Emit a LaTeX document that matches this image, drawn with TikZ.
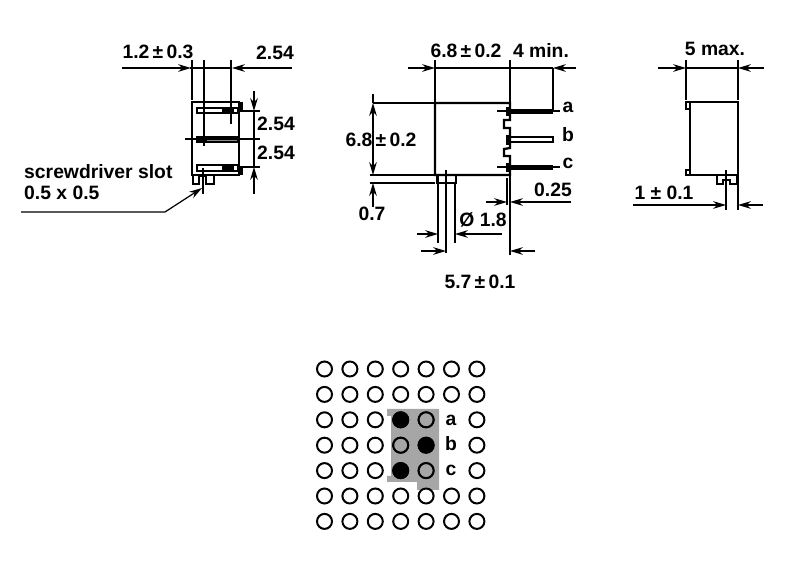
\documentclass[tikz,border=0pt]{standalone}
\usepackage{fontspec}
\setmainfont{Liberation Sans}
\usetikzlibrary{arrows.meta}
\tikzset{
    dimline/.style={line width=1.05pt},
    dimarrow/.style={line width=1.05pt,-{Stealth[length=11pt,width=6.5pt]}},
    outline/.style={line width=1.9pt},
    lbl/.style={font=\fontsize{16.5}{19}\selectfont\bfseries,inner sep=0pt,align=left},
    hole/.style={line width=1.7pt,fill=white},
    plate/.style={fill=black!35}
}
\begin{document}
\begin{tikzpicture}[x=0.03cm,y=-0.03cm]
    \useasboundingbox (0,0) rectangle (800,571);

    % left view
    \draw[outline] (192,102) rectangle (239,175);
    \fill (239,102) rectangle (243,110);
    \fill (239,167) rectangle (243,175);
    \draw[outline,line width=1.4pt] (197,108) rectangle (238,113);
    \filldraw[line width=1.4pt,fill=black!45] (197,137) rectangle (238,142);
    \draw[outline,line width=1.4pt] (197,165) rectangle (238,171);
    \fill (222,108) rectangle (234,113);
    \fill (197,137) rectangle (207,142);
    \fill (222,165) rectangle (234,171);
    \draw[outline,line width=1.5pt] (193,175) -- (193,184) -- (199,184) -- (199,176) -- (206,176) -- (206,184) -- (214,184) -- (214,175);
    \draw[dimline] (192,60) -- (192,100);
    \draw[dimline] (204,60) -- (204,146);
    \draw[dimline] (231,60) -- (231,124);
    \draw[dimline] (203,168) -- (203,194);
    \draw[dimline] (190,68) -- (231,68);
    \draw[dimarrow] (122,68) -- (191,68);
    \draw[dimarrow] (292,68) -- (232,68);
    \draw[dimline] (238,111) -- (260,111);
    \draw[dimline] (185,139) -- (260,139);
    \draw[dimline] (238,167) -- (260,167);
    \draw[dimline] (254,111) -- (254,167);
    \draw[dimarrow] (254,91) -- (254,111);
    \draw[dimarrow] (254,194) -- (254,167);
    \draw[dimarrow] (21,212) -- (165,212) -- (202,188);
    \node[lbl] (tolslot) at (158,52) {1.2\,±\,0.3};
    \node[lbl] (pitchtop) at (275,53) {2.54};
    \node[lbl] (pitcha) at (276,124) {2.54};
    \node[lbl] (pitchb) at (276,153) {2.54};
    \node[lbl,anchor=west] (slot) at (24,182) {screwdriver slot\\[-1.5pt]0.5 x 0.5};

    % front view
    \draw[outline] (510,103) -- (435,103) -- (435,175) -- (510,175) -- (510,156) -- (504,156) -- (504,149) -- (510,148)
        -- (510,128) -- (504,128) -- (504,120) -- (510,120) -- cycle;
    \draw[outline,line width=1.5pt] (437,175) -- (437,183) -- (456,183) -- (456,175);
    \fill (507,109) rectangle (553,114);
    \fill (507,165) rectangle (553,170);
    \draw[line width=1.4pt] (510,137) rectangle (553,142);
    \fill (506,107) rectangle (510,116);
    \fill (506,135) rectangle (510,145);
    \fill (506,163) rectangle (510,172);
    \draw[dimline] (497,111) -- (507,111);
    \draw[dimline] (497,167) -- (507,167);
    \draw[dimline] (553,111) -- (560,111);
    \draw[dimline] (553,167) -- (560,167);
    \draw[dimline] (435,60) -- (435,103);
    \draw[dimline] (510,60) -- (510,103);
    \draw[dimline] (553,68) -- (553,110);
    \draw[dimline] (435,68) -- (553,68);
    \draw[dimarrow] (408,68) -- (435,68);
    \draw[dimarrow] (576,68) -- (553,68);
    \draw[dimline] (373,103) -- (435,103);
    \draw[dimline] (370,175) -- (435,175);
    \draw[dimline] (370,183) -- (435,183);
    \draw[dimarrow] (373,139) -- (373,103);
    \draw[dimarrow] (373,139) -- (373,175);
    \draw[dimline] (373,94) -- (373,103);
    \draw[dimarrow] (373,207) -- (373,183);
    \draw[dimline] (438,175) -- (438,243);
    \draw[dimline] (455,183) -- (455,243);
    \draw[dimline] (446,170) -- (446,253);
    \draw[dimline] (510,175) -- (510,255);
    \draw[dimline] (507,178) -- (507,205);
    \draw[dimarrow] (417,234) -- (438,234);
    \draw[dimarrow] (502,234) -- (455,234);
    \draw[dimarrow] (421,251) -- (446,251);
    \draw[dimarrow] (535,251) -- (510,251);
    \draw[dimarrow] (486,202) -- (507,202);
    \draw[dimarrow] (571,202) -- (510,202);
    \node[lbl] (width) at (466,51) {6.8\,±\,0.2};
    \node[lbl] (lead) at (541,51) {4 min.};
    \node[lbl] (height) at (381,140) {6.8\,±\,0.2};
    \node[lbl] (gap) at (372,214) {0.7};
    \node[lbl] (dia) at (483,220) {Ø 1.8};
    \node[lbl] (pin) at (553,190) {0.25};
    \node[lbl] (depth) at (480,282) {5.7\,±\,0.1};
    \node[lbl] (pina) at (568,107) {a};
    \node[lbl] (pinb) at (568,135) {b};
    \node[lbl] (pinc) at (568,163) {c};

    % side view
    \draw[outline] (690,102) rectangle (738,175);
    \draw[outline,line width=1.4pt] (690,102) rectangle (686,109);
    \draw[outline,line width=1.4pt] (690,170) rectangle (686,175);
    \draw[outline,line width=1.5pt] (717,175) -- (717,184) -- (723,184) -- (723,180) -- (730,180) -- (730,184) -- (737,184) -- (737,175);
    \draw[dimline] (686,60) -- (686,100);
    \draw[dimline] (738,60) -- (738,100);
    \draw[dimline] (686,68) -- (738,68);
    \draw[dimarrow] (658,68) -- (686,68);
    \draw[dimarrow] (764,68) -- (738,68);
    \draw[dimline] (726,170) -- (726,210);
    \draw[dimline] (738,175) -- (738,210);
    \draw[dimarrow] (633,205) -- (726,205);
    \draw[dimarrow] (763,205) -- (738,205);
    \node[lbl] (maxw) at (715,49) {5 max.};
    \node[lbl] (offset) at (664,193) {1 ± 0.1};

    % hole pattern
    \fill[plate] (387,409) -- (439,409) -- (439,490) -- (417,490) -- (417,482) -- (387,482) -- (387,476)
        -- (391,476) -- (391,416) -- (387,416) -- cycle;
    \foreach \x in {0,1,2,3,4,6}{
        \foreach \y in {0,...,6}{
            \draw[hole] (324.5+25.4*\x,369+25.4*\y) circle (7.5);
        }
    }
    \foreach \y in {0,1,5,6}{
        \draw[hole] (451.5,369+25.4*\y) circle (7.5);
    }
    \filldraw[hole,fill=black] (400.7,419.8) circle (7.5);
    \filldraw[hole,fill=black] (426.1,445.2) circle (7.5);
    \filldraw[hole,fill=black] (400.7,470.6) circle (7.5);
    \filldraw[hole,fill=black!35] (426.1,419.8) circle (7.5);
    \filldraw[hole,fill=black!35] (400.7,445.2) circle (7.5);
    \filldraw[hole,fill=black!35] (426.1,470.6) circle (7.5);
    \node[lbl] (hola) at (451,420) {a};
    \node[lbl] (holb) at (451,444) {b};
    \node[lbl] (holc) at (451,470) {c};
\end{tikzpicture}
\end{document}
